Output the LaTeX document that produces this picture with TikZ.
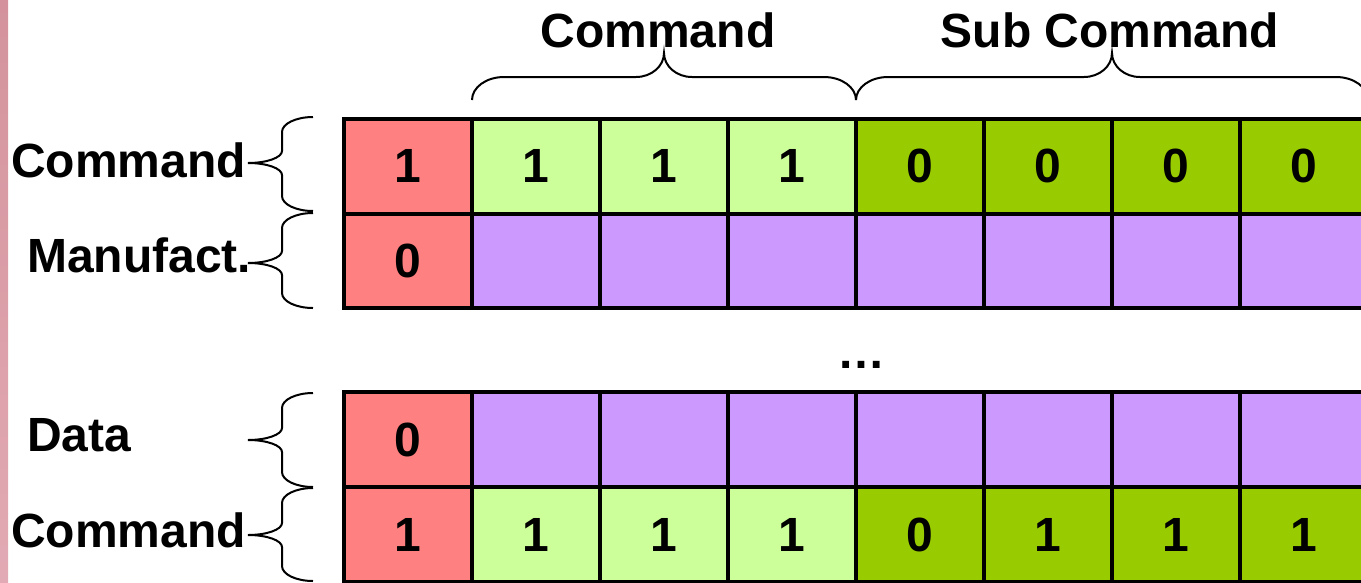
\documentclass[tikz,border=0pt]{standalone}
\usepackage{fontspec}
\setmainfont{Liberation Sans}
\definecolor{cred}{HTML}{FF8080}
\definecolor{clg}{HTML}{CCFF99}
\definecolor{cdg}{HTML}{99CC00}
\definecolor{cpu}{HTML}{CC99FF}
\definecolor{stripA}{HTML}{D4939C}
\definecolor{stripB}{HTML}{E2AAB4}
% horizontal brace, tip up: xa, xm, xb, yb(ends), yf(flat), yt(tip)
\newcommand{\hbrc}[6]{%
  \draw[brc] (#1,#4) .. controls (#1,{#4+0.552*(#5-#4)}) and ({#1+14.34},#5) .. ({#1+32},#5)
    -- ({#2-28},#5) .. controls ({#2-12.54},#5) and (#2,{#6+0.552*(#5-#6)}) .. (#2,#6)
    .. controls (#2,{#6+0.552*(#5-#6)}) and ({#2+12.54},#5) .. ({#2+28},#5)
    -- ({#3-32},#5) .. controls ({#3-14.34},#5) and (#3,{#4+0.552*(#5-#4)}) .. (#3,#4);}
% vertical brace, tip left: ya, ym, yb ; ends x=313, spine 282, tip 248
\newcommand{\vbrc}[3]{%
  \draw[brc] (313,#1) .. controls (295.9,#1) and (282,{#1+6.72}) .. (282,{#1+15})
    -- (282,{#2-12}) .. controls (282,{#2-5.38}) and (266.8,#2) .. (248,#2)
    .. controls (266.8,#2) and (282,{#2+5.38}) .. (282,{#2+12})
    -- (282,{#3-15}) .. controls (282,{#3-6.72}) and (295.9,#3) .. (313,#3);}
\begin{document}
\begin{tikzpicture}[x=1pt,y=-1pt,
  cell/.style={draw=black,line width=4pt,minimum width=128pt,minimum height=94.5pt,
    inner sep=0pt,font=\fontsize{48}{56}\selectfont\bfseries,anchor=center},
  lbl/.style={font=\fontsize{48}{56}\selectfont\bfseries,inner sep=0pt},
  brc/.style={line width=2pt,black}]
\useasboundingbox (0,0) rectangle (1361,582);
\clip (0,0) rectangle (1361,582);
\fill[white] (0,0) rectangle (1361,582);
\shade[top color=stripA,bottom color=stripB] (0,0) rectangle (8,582);

% row 1
\node[cell,fill=cred] (r1c0) at (408,166.25) {1};
\foreach \i in {1,2,3}{\node[cell,fill=clg] (r1c\i) at ({408+128*\i},166.25) {1};}
\foreach \i in {4,5,6,7}{\node[cell,fill=cdg] (r1c\i) at ({408+128*\i},166.25) {0};}
% row 2
\node[cell,fill=cred] (r2c0) at (408,260.75) {0};
\foreach \i in {1,...,7}{\node[cell,fill=cpu] (r2c\i) at ({408+128*\i},260.75) {};}
% row 3
\node[cell,fill=cred] (r3c0) at (408,439.5) {0};
\foreach \i in {1,...,7}{\node[cell,fill=cpu] (r3c\i) at ({408+128*\i},439.5) {};}
% row 4
\node[cell,fill=cred] (r4c0) at (408,534.5) {1};
\foreach \i in {1,2,3}{\node[cell,fill=clg] (r4c\i) at ({408+128*\i},534.5) {1};}
\node[cell,fill=cdg] (r4c4) at (920,534.5) {0};
\foreach \i in {5,6,7}{\node[cell,fill=cdg] (r4c\i) at ({408+128*\i},534.5) {1};}

% labels
\node[lbl,anchor=base] (tcmd) at (658,47) {Command};
\node[lbl,anchor=base] (tsub) at (1110,47) {Sub Command};
\node[lbl,anchor=base west] (lcmd1) at (11,177) {Command};
\node[lbl,anchor=base west] (lman) at (27,272) {Manufact.};
\node[lbl,anchor=base west] (ldata) at (27,451) {Data};
\node[lbl,anchor=base west] (lcmd2) at (11,547) {Command};
\node[lbl,anchor=base] (dots) at (861,368) {…};

% braces
\hbrc{472}{664}{856}{100}{77}{53}
\hbrc{856}{1112}{1368}{100}{77}{53}
\vbrc{117}{163}{211}
\vbrc{213}{263}{308}
\vbrc{393}{440}{487}
\vbrc{488}{535}{581}
\end{tikzpicture}
\end{document}
